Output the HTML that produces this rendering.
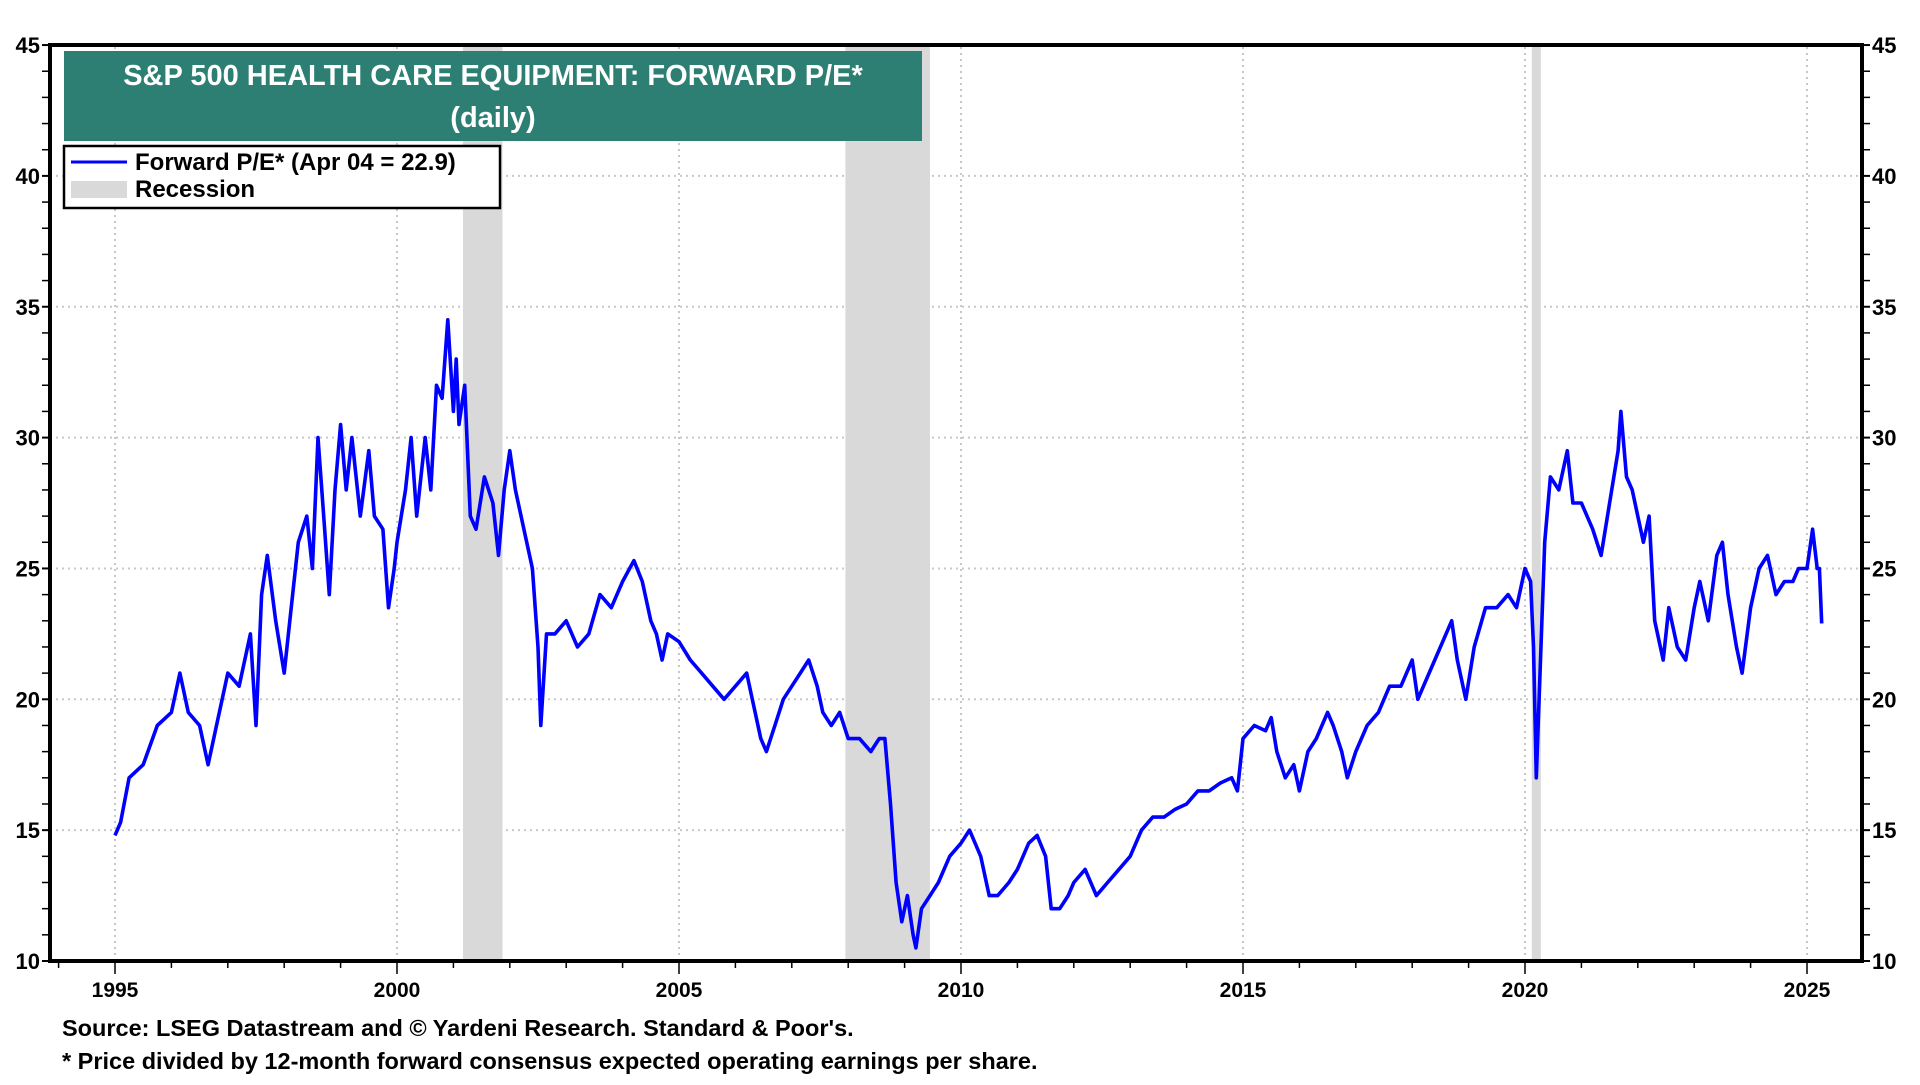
<!DOCTYPE html>
<html><head><meta charset="utf-8"><style>
html,body{margin:0;padding:0;background:#fff}
svg text{font-family:"Liberation Sans",Arial,sans-serif;font-weight:bold}
</style></head><body>
<svg width="1920" height="1080" viewBox="0 0 1920 1080">
<g id="grid"></g>
<g id="rec"></g>
<path id="line" fill="none" stroke="#0000ff" stroke-width="3.6" stroke-linejoin="round"/>
<rect x="50" y="45" width="1812" height="916" fill="none" stroke="#000" stroke-width="4"/>
<g id="axes"></g>
<rect x="64" y="51" width="858" height="90" fill="#2e7f73"/>
<text x="493" y="85" fill="#fff" font-size="29" text-anchor="middle">S&amp;P 500 HEALTH CARE EQUIPMENT: FORWARD P/E*</text>
<text x="493" y="127" fill="#fff" font-size="29" text-anchor="middle">(daily)</text>
<g>
<rect x="64" y="146" width="436" height="62" fill="#fff" stroke="#000" stroke-width="2.5"/>
<line x1="71" y1="162" x2="127" y2="162" stroke="#0000ff" stroke-width="3"/>
<text x="135" y="170" font-size="24">Forward P/E* (Apr 04 = 22.9)</text>
<rect x="71" y="181" width="56" height="17" fill="#d9d9d9"/>
<text x="135" y="197" font-size="24">Recession</text>
</g>
<text x="62" y="1036" font-size="23.5">Source: LSEG Datastream and © Yardeni Research. Standard &amp; Poor's.</text>
<text x="62" y="1069" font-size="23.5">* Price divided by 12-month forward consensus expected operating earnings per share.</text>
</svg>
<script>
const years=[1995,1995.1,1995.25,1995.5,1995.75,1996,1996.15,1996.3,1996.5,1996.65,1996.8,1997,1997.2,1997.4,1997.5,1997.6,1997.7,1997.85,1998,1998.1,1998.25,1998.4,1998.5,1998.6,1998.7,1998.8,1998.9,1999,1999.1,1999.2,1999.35,1999.5,1999.6,1999.75,1999.85,1999.95,2000,2000.15,2000.25,2000.35,2000.5,2000.6,2000.7,2000.8,2000.9,2001,2001.05,2001.1,2001.2,2001.3,2001.4,2001.55,2001.7,2001.8,2001.9,2002,2002.1,2002.25,2002.4,2002.5,2002.55,2002.65,2002.8,2003,2003.2,2003.4,2003.6,2003.8,2004,2004.2,2004.35,2004.5,2004.6,2004.7,2004.8,2005,2005.2,2005.4,2005.6,2005.8,2006,2006.2,2006.3,2006.45,2006.55,2006.7,2006.85,2007,2007.15,2007.3,2007.45,2007.55,2007.7,2007.85,2008,2008.2,2008.4,2008.55,2008.65,2008.75,2008.85,2008.95,2009.05,2009.15,2009.2,2009.3,2009.45,2009.6,2009.8,2010,2010.15,2010.25,2010.35,2010.5,2010.65,2010.85,2011,2011.2,2011.35,2011.5,2011.6,2011.75,2011.9,2012,2012.2,2012.4,2012.6,2012.8,2013,2013.2,2013.4,2013.6,2013.8,2014,2014.2,2014.4,2014.6,2014.8,2014.9,2015,2015.2,2015.4,2015.5,2015.6,2015.75,2015.9,2016,2016.15,2016.3,2016.5,2016.6,2016.75,2016.85,2017,2017.2,2017.4,2017.6,2017.8,2018,2018.1,2018.3,2018.5,2018.7,2018.8,2018.95,2019.1,2019.3,2019.5,2019.7,2019.85,2020,2020.1,2020.15,2020.2,2020.25,2020.35,2020.45,2020.6,2020.75,2020.85,2021,2021.2,2021.35,2021.5,2021.65,2021.7,2021.8,2021.9,2022,2022.1,2022.2,2022.3,2022.45,2022.55,2022.7,2022.85,2023,2023.1,2023.25,2023.4,2023.5,2023.6,2023.75,2023.85,2024,2024.15,2024.3,2024.45,2024.6,2024.75,2024.85,2025,2025.1,2025.18,2025.22,2025.26];
const pe=[14.8,15.3,17,17.5,19,19.5,21,19.5,19,17.5,19,21,20.5,22.5,19,24,25.5,23,21,23,26,27,25,30,27,24,28,30.5,28,30,27,29.5,27,26.5,23.5,25,26,28,30,27,30,28,32,31.5,34.5,31,33,30.5,32,27,26.5,28.5,27.5,25.5,28,29.5,28,26.5,25,22,19,22.5,22.5,23,22,22.5,24,23.5,24.5,25.3,24.5,23,22.5,21.5,22.5,22.2,21.5,21,20.5,20,20.5,21,20,18.5,18,19,20,20.5,21,21.5,20.5,19.5,19,19.5,18.5,18.5,18,18.5,18.5,16,13,11.5,12.5,11,10.5,12,12.5,13,14,14.5,15,14.5,14,12.5,12.5,13,13.5,14.5,14.8,14,12,12,12.5,13,13.5,12.5,13,13.5,14,15,15.5,15.5,15.8,16,16.5,16.5,16.8,17,16.5,18.5,19,18.8,19.3,18,17,17.5,16.5,18,18.5,19.5,19,18,17,18,19,19.5,20.5,20.5,21.5,20,21,22,23,21.5,20,22,23.5,23.5,24,23.5,25,24.5,22,17,20,26,28.5,28,29.5,27.5,27.5,26.5,25.5,27.5,29.5,31,28.5,28,27,26,27,23,21.5,23.5,22,21.5,23.5,24.5,23,25.5,26,24,22,21,23.5,25,25.5,24,24.5,24.5,25,25,26.5,25,25,22.9];
const yTicks=[10,15,20,25,30,35,40,45];
const xLabels=[1995,2000,2005,2010,2015,2020,2025];
const recStart=[2001.17,2007.95,2020.12];
const recEnd=[2001.87,2009.45,2020.28];
const X=y=>115+(y-1995)*56.4, Y=v=>961-(v-10)*26.17;
const NS="http://www.w3.org/2000/svg";
function mk(p,t,a){const e=document.createElementNS(NS,t);for(const k in a)e.setAttribute(k,a[k]);p.appendChild(e);return e;}
const grid=document.getElementById('grid'),rec=document.getElementById('rec'),ax=document.getElementById('axes');
for(let i=0;i<recStart.length;i++){const r=mk(rec,'rect',{x:X(recStart[i]),y:47,width:X(recEnd[i])-X(recStart[i]),height:912,fill:'#d9d9d9'});

}
yTicks.forEach(v=>{if(v>10&&v<45){const l=mk(grid,'line',{x1:50,x2:1862,y1:Y(v),y2:Y(v),stroke:'#c8c8c8','stroke-width':2,'stroke-dasharray':'2,4'});

}
const t1=mk(ax,'text',{x:40,y:Y(v)+8,'font-size':22,'text-anchor':'end'});t1.textContent=v;


const t2=mk(ax,'text',{x:1872,y:Y(v)+8,'font-size':22});t2.textContent=v;

});
for(let v=10;v<=45;v++){mk(ax,'line',{x1:42,x2:50,y1:Y(v),y2:Y(v),stroke:'#000','stroke-width':v%5?1.5:2});mk(ax,'line',{x1:1862,x2:1870,y1:Y(v),y2:Y(v),stroke:'#000','stroke-width':v%5?1.5:2});}
for(let y=1994;y<=2026;y++){const x=X(y);if(x<52||x>1860)continue;mk(ax,'line',{x1:x,x2:x,y1:961,y2:y%5?968:974,stroke:'#000','stroke-width':1.5});}
xLabels.forEach(y=>{const l=mk(grid,'line',{x1:X(y),x2:X(y),y1:47,y2:959,stroke:'#c8c8c8','stroke-width':2,'stroke-dasharray':'2,4'});


const t=mk(ax,'text',{x:X(y),y:997,'font-size':21,'text-anchor':'middle'});t.textContent=y;

});
document.getElementById('line').setAttribute('d',years.map((y,i)=>(i?'L':'M')+X(y).toFixed(1)+','+Y(pe[i]).toFixed(1)).join(''));
</script>
</body></html>
